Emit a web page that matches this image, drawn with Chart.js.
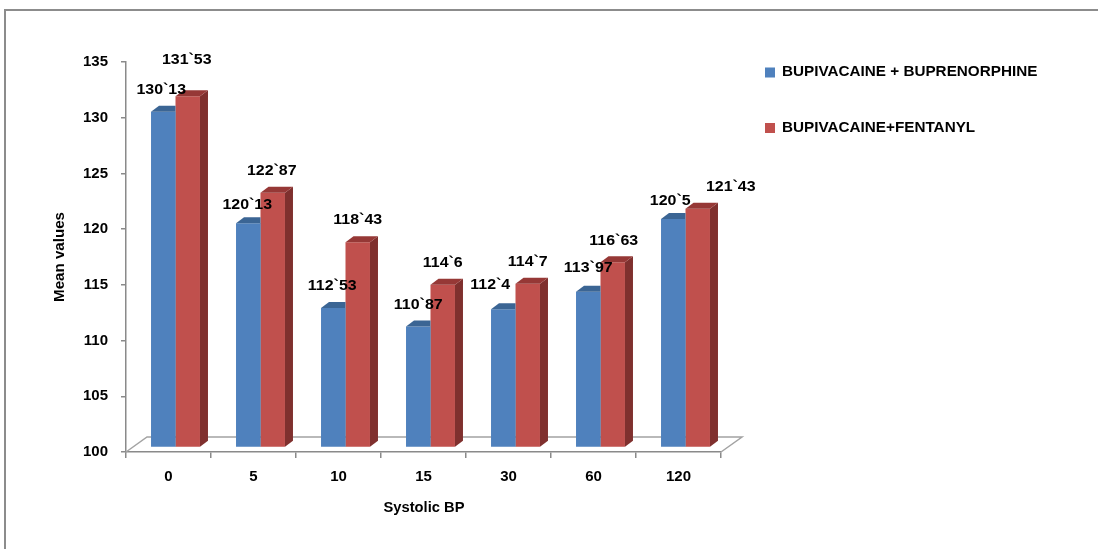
<!DOCTYPE html>
<html>
<head>
<meta charset="utf-8">
<script src="https://cdn.jsdelivr.net/npm/chart.js@4/dist/chart.umd.min.js"></script>
<style>
  html, body { margin: 0; padding: 0; background: #fff; }
  #wrap { width: 1098px; height: 549px; }
</style>
</head>
<body>
<div id="wrap"><canvas id="bp"></canvas></div>
<script>
// Systolic BP means at each time point (minutes)
const categories = ['0', '5', '10', '15', '30', '60', '120'];
const buprenorphine = [130.13, 120.13, 112.53, 110.87, 112.4, 113.97, 120.5];
const fentanyl = [131.53, 122.87, 118.43, 114.6, 114.7, 116.63, 121.43];
const seriesNames = ['BUPIVACAINE + BUPRENORPHINE', 'BUPIVACAINE+FENTANYL'];
const yMin = 100, yMax = 135, yStep = 5;

// value-label nudges [dx, dy] so neighbouring labels do not collide
const buprenorphineNudge = [[-2, 0], [-1, 3], [-1, 0], [0, 0], [-13, -3], [0, -2], [-3, 4]];
const fentanylNudge = [[-1, -15], [-1, 0], [0, 0], [0, 0], [0, 0], [1, 0], [33, 0]];

const FONT = '"Liberation Sans", Arial, sans-serif';
const DEPTH_X = 8, DEPTH_Y = -6;       // bar depth projection
const SHIFT_X = 7, SHIFT_Y = -4.5;     // bars sit mid-way on the floor
const FLOOR_X = 21, FLOOR_Y = -15;     // floor depth projection
const AXIS_GREY = '#8a8a8a';

const palette = [
  { front: '#4f81bd', side: '#385d8a', top: '#3b6594' },
  { front: '#c0504d', side: '#7f302e', top: '#963836' }
];

function label(v) { return String(v).replace('.', '`'); }

function stretchText(ctx, text, x, y, size, sx, align) {
  ctx.save();
  ctx.translate(x, y);
  ctx.scale(sx, 1);
  ctx.font = 'bold ' + size + 'px ' + FONT;
  ctx.textAlign = align;
  ctx.textBaseline = 'middle';
  ctx.fillStyle = '#000';
  ctx.fillText(text, 0, 0);
  ctx.restore();
}

const bars3d = {
  id: 'bars3d',
  beforeDraw(chart) {
    const ctx = chart.ctx;
    ctx.save();
    ctx.fillStyle = '#fff';
    ctx.fillRect(0, 0, chart.width, chart.height);
    ctx.strokeStyle = '#8c8c8c';
    ctx.lineWidth = 2;
    ctx.beginPath();
    ctx.moveTo(5, chart.height);
    ctx.lineTo(5, 10);
    ctx.lineTo(chart.width, 10);
    ctx.stroke();
    ctx.restore();
  },
  beforeDatasetsDraw(chart) {
    const ctx = chart.ctx;
    const a = chart.chartArea;
    ctx.save();
    ctx.strokeStyle = '#a3a3a3';
    ctx.lineWidth = 1.5;
    ctx.beginPath();
    ctx.moveTo(a.left, a.bottom);
    ctx.lineTo(a.left + FLOOR_X, a.bottom + FLOOR_Y);
    ctx.lineTo(a.right + FLOOR_X, a.bottom + FLOOR_Y);
    ctx.lineTo(a.right, a.bottom);
    ctx.stroke();
    ctx.restore();
    ctx.save();
    ctx.translate(SHIFT_X, SHIFT_Y);
  },
  afterDatasetDraw(chart, args) {
    const ctx = chart.ctx;
    const col = palette[args.index];
    // the front series is drawn last; its depth faces hide behind the taller neighbour
    const front = args.index === 0;
    args.meta.data.forEach(el => {
      const p = el.getProps(['x', 'y', 'base', 'width'], true);
      const l = p.x - p.width / 2, r = p.x + p.width / 2;
      ctx.save();
      if (front) {
        ctx.beginPath();
        ctx.rect(l - 1, 0, r - l + 1, chart.height);
        ctx.clip();
      }
      // side face
      ctx.fillStyle = col.side;
      ctx.beginPath();
      ctx.moveTo(r, p.y);
      ctx.lineTo(r + DEPTH_X, p.y + DEPTH_Y);
      ctx.lineTo(r + DEPTH_X, p.base + DEPTH_Y);
      ctx.lineTo(r, p.base);
      ctx.closePath();
      ctx.fill();
      // top face
      ctx.fillStyle = col.top;
      ctx.beginPath();
      ctx.moveTo(l, p.y);
      ctx.lineTo(r, p.y);
      ctx.lineTo(r + DEPTH_X, p.y + DEPTH_Y);
      ctx.lineTo(l + DEPTH_X, p.y + DEPTH_Y);
      ctx.closePath();
      ctx.fill();
      ctx.restore();
    });
  },
  afterDatasetsDraw(chart) {
    const ctx = chart.ctx;
    ctx.restore();
    const nudges = [buprenorphineNudge, fentanylNudge];
    chart.data.datasets.forEach((ds, i) => {
      const meta = chart.getDatasetMeta(i);
      meta.data.forEach((el, j) => {
        const p = el.getProps(['x', 'y'], true);
        const n = nudges[i][j];
        stretchText(ctx, label(ds.data[j]), p.x + SHIFT_X + n[0], p.y + SHIFT_Y - 21.5 + n[1], 14, 1.14, 'center');
      });
    });
  },
  afterDraw(chart) {
    const ctx = chart.ctx;
    const a = chart.chartArea;
    // legend
    const legendY = [72.5, 128];
    seriesNames.forEach((name, i) => {
      ctx.fillStyle = palette[i].front;
      ctx.fillRect(765, legendY[i] - 5, 10, 10);
      stretchText(ctx, name, 782, legendY[i], 14, 1.09, 'left');
    });
    // axis titles
    stretchText(ctx, 'Systolic BP', (a.left + a.right) / 2 + 0.5, 508, 14, 1.05, 'center');
    ctx.save();
    ctx.translate(60, (a.top + a.bottom) / 2);
    ctx.rotate(-Math.PI / 2);
    stretchText(ctx, 'Mean values', 0, 0, 14, 1.08, 'center');
    ctx.restore();
  }
};

Chart.defaults.font.family = FONT;
Chart.defaults.font.weight = 'bold';
Chart.defaults.color = '#000';

new Chart(document.getElementById('bp'), {
  type: 'bar',
  data: {
    labels: categories,
    datasets: [
      { label: seriesNames[0], data: buprenorphine, backgroundColor: palette[0].front },
      { label: seriesNames[1], data: fentanyl, backgroundColor: palette[1].front }
    ]
  },
  options: {
    responsive: true,
    maintainAspectRatio: false,
    animation: false,
    layout: { padding: { left: 0, right: 377, top: 62, bottom: 0 } },
    datasets: { bar: { base: yMin, categoryPercentage: 0.576, barPercentage: 1, borderWidth: 0, clip: false } },
    plugins: { legend: { display: false }, tooltip: { enabled: false } },
    scales: {
      x: {
        afterFit(s) { s.height = 97; },
        grid: { offset: true, drawOnChartArea: false, drawTicks: true, tickLength: 6, color: AXIS_GREY, lineWidth: 1.5 },
        border: { display: true, color: AXIS_GREY, width: 1.5 },
        ticks: { font: { size: 15, weight: 'bold' }, padding: 10 }
      },
      y: {
        min: yMin, max: yMax,
        afterFit(s) { s.width = 126; },
        grid: { drawOnChartArea: false, drawTicks: true, tickLength: 5, color: AXIS_GREY, lineWidth: 1.5 },
        border: { display: true, color: AXIS_GREY, width: 1.5 },
        ticks: { stepSize: yStep, font: { size: 15, weight: 'bold' }, padding: 13 }
      }
    }
  },
  plugins: [bars3d]
});
</script>
</body>
</html>
